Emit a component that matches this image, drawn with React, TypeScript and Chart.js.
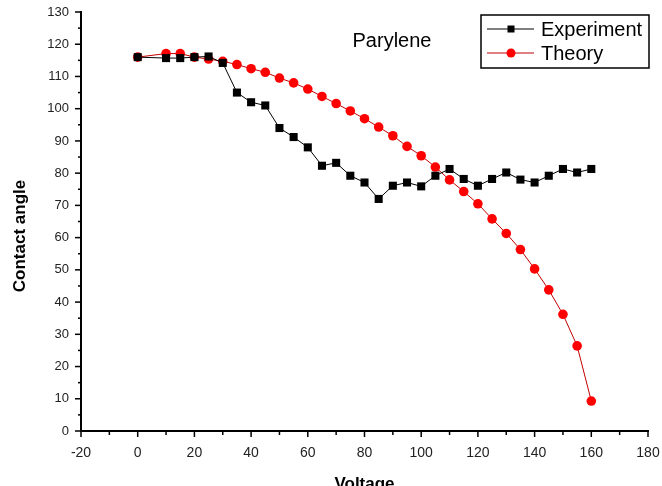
import React, { useEffect, useRef } from "react";
import { Chart, registerables } from "chart.js";

Chart.register(...registerables);

// ---- data ----
const voltageExp = [0, 10, 15, 20, 25, 30, 35, 40, 45, 50, 55, 60, 65, 70, 75, 80, 85, 90, 95, 100, 105, 110, 115, 120, 125, 130, 135, 140, 145, 150, 155, 160];
const angleExp = [116, 115.7, 115.7, 116, 116.2, 114.2, 105, 102, 101, 94, 91.2, 88, 82.3, 83.2, 79.2, 77.1, 72, 76.1, 77.1, 75.9, 79.2, 81.3, 78.2, 76.1, 78.2, 80.2, 78, 77.1, 79.2, 81.3, 80.2, 81.3];
const voltageTheory = [0, 10, 15, 20, 25, 30, 35, 40, 45, 50, 55, 60, 65, 70, 75, 80, 85, 90, 95, 100, 105, 110, 115, 120, 125, 130, 135, 140, 145, 150, 155, 160];
const angleTheory = [116, 117.1, 117.1, 116, 115.4, 114.7, 113.7, 112.4, 111.3, 109.5, 108, 106.1, 103.8, 101.6, 99.3, 96.9, 94.3, 91.6, 88.3, 85.4, 81.9, 77.9, 74.3, 70.5, 65.8, 61.3, 56.3, 50.3, 43.8, 36.2, 26.4, 9.3];

const seriesLabels = ["Experiment", "Theory"];
const xRange = [-20, 180];
const yRange = [0, 130];
const xMajorStep = 20;
const xMinorStep = 10;
const yMajorStep = 10;
const yMinorStep = 5;
const annotationText = "Parylene";
const xTitle = "Voltage";
const yTitle = "Contact angle";

const FONT = "'Liberation Sans', Arial, Helvetica, sans-serif";

const decorPlugin = {
  id: "decor",
  afterDraw(chart: any) {
    const { ctx, chartArea, scales } = chart;
    const xs = scales.x;
    const ys = scales.y;
    ctx.save();
    ctx.strokeStyle = "#000";
    ctx.lineWidth = 1.5;
    // x ticks
    for (let v = xRange[0]; v <= xRange[1]; v += xMinorStep) {
      const px = xs.getPixelForValue(v);
      const major = Math.abs(v % xMajorStep) === 0;
      ctx.beginPath();
      ctx.moveTo(px, chartArea.bottom);
      ctx.lineTo(px, chartArea.bottom + (major ? 6 : 4));
      ctx.stroke();
    }
    // y ticks
    for (let v = yRange[0]; v <= yRange[1]; v += yMinorStep) {
      const py = ys.getPixelForValue(v);
      const major = Math.abs(v % yMajorStep) === 0;
      ctx.beginPath();
      ctx.moveTo(chartArea.left, py);
      ctx.lineTo(chartArea.left - (major ? 6 : 3), py);
      ctx.stroke();
    }

    // axis titles
    ctx.fillStyle = "#000";
    ctx.font = `bold 17px ${FONT}`;
    ctx.textAlign = "center";
    ctx.textBaseline = "middle";
    ctx.fillText(xTitle, (chartArea.left + chartArea.right) / 2, 484);
    ctx.save();
    ctx.translate(20, 236);
    ctx.rotate(-Math.PI / 2);
    ctx.fillText(yTitle, 0, 0);
    ctx.restore();

    // annotation
    ctx.font = `20px ${FONT}`;
    ctx.fillText(annotationText, 392, 41);

    // legend
    const bx = 481, by = 15, bw = 168, bh = 53;
    ctx.lineWidth = 1.5;
    ctx.strokeStyle = "#000";
    ctx.strokeRect(bx, by, bw, bh);
    const rows = [29, 53];
    chart.data.datasets.forEach((ds: any, i: number) => {
      const y = rows[i];
      ctx.strokeStyle = ds.borderColor;
      ctx.lineWidth = 1;
      ctx.beginPath();
      ctx.moveTo(487, y);
      ctx.lineTo(534, y);
      ctx.stroke();
      ctx.fillStyle = ds.pointBackgroundColor;
      if (ds.pointStyle === "rect") {
        ctx.fillRect(511 - 3.5, y - 3.5, 7, 7);
      } else {
        ctx.beginPath();
        ctx.arc(511, y, 4.5, 0, Math.PI * 2);
        ctx.fill();
      }
      ctx.fillStyle = "#000";
      ctx.font = `20px ${FONT}`;
      ctx.textAlign = "left";
      ctx.textBaseline = "middle";
      ctx.fillText(ds.label, 541, y + 1);
    });
    ctx.restore();
  },
};

export default function App() {
  const canvasRef = useRef<HTMLCanvasElement | null>(null);

  useEffect(() => {
    if (!canvasRef.current) return;
    const chart = new Chart(canvasRef.current, {
      type: "line",
      data: {
        datasets: [
          {
            label: seriesLabels[0],
            data: voltageExp.map((x, i) => ({ x, y: angleExp[i] })),
            borderColor: "#000000",
            borderWidth: 1,
            pointStyle: "rect",
            pointRadius: 5.7,
            pointBackgroundColor: "#000000",
            pointBorderWidth: 0,
            tension: 0,
          },
          {
            label: seriesLabels[1],
            data: voltageTheory.map((x, i) => ({ x, y: angleTheory[i] })),
            borderColor: "#c00000",
            borderWidth: 1,
            pointStyle: "circle",
            pointRadius: 4.8,
            pointBackgroundColor: "#ff0000",
            pointBorderWidth: 0,
            tension: 0,
          },
        ],
      },
      options: {
        animation: false,
        responsive: true,
        maintainAspectRatio: false,
        layout: { padding: { left: 0, right: 14, top: 12, bottom: 0 } },
        plugins: {
          legend: { display: false },
          tooltip: { enabled: false },
          title: { display: false },
        },
        scales: {
          x: {
            type: "linear",
            position: "bottom",
            min: xRange[0],
            max: xRange[1],
            ticks: {
              stepSize: xMajorStep,
              color: "#222",
              font: { family: FONT, size: 14 },
              padding: 14,
              maxRotation: 0,
            },
            grid: { display: false, drawTicks: false },
            border: { display: true, color: "#000", width: 2 },
            afterFit: (s: any) => {
              s.height = 55;
              s.paddingLeft = 0;
              s.paddingRight = 0;
            },
          },
          y: {
            type: "linear",
            position: "left",
            min: yRange[0],
            max: yRange[1],
            ticks: {
              stepSize: yMajorStep,
              color: "#222",
              font: { family: FONT, size: 13 },
              padding: 12,
            },
            grid: { display: false, drawTicks: false },
            border: { display: true, color: "#000", width: 2 },
            afterFit: (s: any) => {
              s.width = 81;
              s.paddingTop = 0;
              s.paddingBottom = 0;
            },
          },
        },
      },
      plugins: [decorPlugin],
    });
    return () => chart.destroy();
  }, []);

  return (
    <div style={{ position: "fixed", left: 0, top: 0, width: 662, height: 486, background: "#fff" }}>
      <canvas ref={canvasRef} />
    </div>
  );
}
